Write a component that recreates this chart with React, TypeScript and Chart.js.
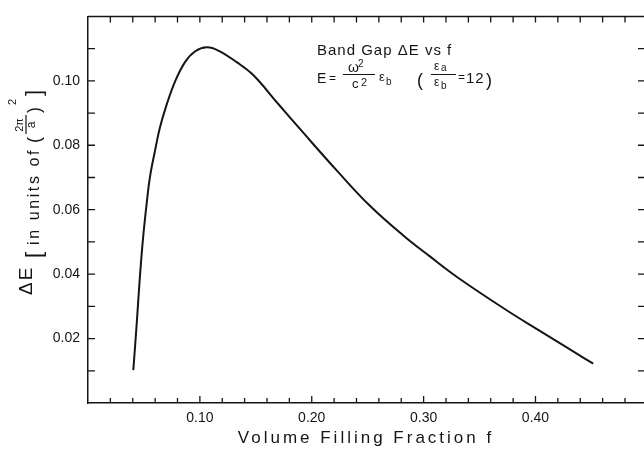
import React, { useEffect, useRef } from 'react';
import { Chart, registerables } from 'chart.js';

Chart.register(...registerables);

// ---- data ----
const fillFraction = [
  0.0405, 0.0435, 0.0465, 0.0494, 0.0525, 0.0554, 0.0599, 0.0643, 0.0703, 0.0777,
  0.0867, 0.0956, 0.1061, 0.1165, 0.1329, 0.1477, 0.1701, 0.1924, 0.2223, 0.252,
  0.2818, 0.3056, 0.3324, 0.3742, 0.4039, 0.4337, 0.4516,
];
const bandGap = [
  0.0102, 0.0244, 0.0397, 0.0519, 0.0621, 0.0702, 0.0783, 0.0855, 0.0926, 0.0997,
  0.1058, 0.1091, 0.1104, 0.1094, 0.1058, 0.1018, 0.0928, 0.0839, 0.0722, 0.0612,
  0.052, 0.0455, 0.0385, 0.0288, 0.0224, 0.016, 0.0122,
];
const xTickLabels = ['0.10', '0.20', '0.30', '0.40'];
const yTickLabels = ['0.02', '0.04', '0.06', '0.08', '0.10'];
const xAxisTitle = 'Volume Filling Fraction f';
const annotationTitle = 'Band Gap \u0394E vs f';

const INK = '#151515';
const FONT = '"Liberation Sans", Arial, sans-serif';

function txt(ctx: CanvasRenderingContext2D, s: string, x: number, y: number, size: number, ls = 0, align: CanvasTextAlign = 'left') {
  ctx.font = `${size}px ${FONT}`;
  (ctx as any).letterSpacing = `${ls}px`;
  ctx.textAlign = align;
  ctx.textBaseline = 'alphabetic';
  ctx.fillText(s, x, y);
}

function hline(ctx: CanvasRenderingContext2D, x1: number, x2: number, y: number, w = 1) {
  ctx.lineWidth = w;
  ctx.beginPath();
  ctx.moveTo(x1, y);
  ctx.lineTo(x2, y);
  ctx.stroke();
}

const decorPlugin = {
  id: 'decor',
  afterDraw(chart: any) {
    const ctx: CanvasRenderingContext2D = chart.ctx;
    const { left, right, top, bottom } = chart.chartArea;
    const xs = chart.scales.x;
    const ys = chart.scales.y;
    ctx.save();
    ctx.strokeStyle = INK;
    ctx.fillStyle = INK;
    ctx.lineWidth = 1.5;
    // top border
    ctx.beginPath();
    ctx.moveTo(left, top);
    ctx.lineTo(right, top);
    ctx.stroke();
    // inward ticks
    ctx.lineWidth = 1.3;
    xs.ticks.forEach((t: any) => {
      const v = t.value;
      if (v <= xs.min + 1e-9 || v >= xs.max - 1e-9) return;
      const px = xs.getPixelForValue(v);
      const major = Math.round(v * 100) % 10 === 0;
      const len = major ? 7 : 5;
      ctx.beginPath();
      ctx.moveTo(px, bottom);
      ctx.lineTo(px, bottom - len);
      ctx.moveTo(px, top);
      ctx.lineTo(px, top + 6);
      ctx.stroke();
    });
    ys.ticks.forEach((t: any) => {
      const v = t.value;
      if (v <= ys.min + 1e-9 || v >= ys.max - 1e-9) return;
      const py = ys.getPixelForValue(v);
      ctx.beginPath();
      ctx.moveTo(left, py);
      ctx.lineTo(left + 7, py);
      ctx.moveTo(right, py);
      ctx.lineTo(right - 6, py);
      ctx.stroke();
    });

    // x axis title
    txt(ctx, xAxisTitle, 366, 442.5, 17, 3, 'center');

    // y axis title (rotated)
    ctx.save();
    ctx.translate(0, 295);
    ctx.rotate(-Math.PI / 2);
    txt(ctx, '\u0394E', 0, 32, 19, 2);
    txt(ctx, '[', 37, 41, 22);
    txt(ctx, 'in units of', 50, 39, 16, 2.6);
    txt(ctx, '(', 152, 40, 18);
    txt(ctx, '2\u03c0', 170, 23, 11, 0, 'center');
    ctx.strokeStyle = INK;
    hline(ctx, 161, 180, 26, 1.2);
    txt(ctx, 'a', 170, 35, 12, 0, 'center');
    txt(ctx, ')', 182, 40, 18);
    txt(ctx, '2', 190, 16, 11);
    txt(ctx, ']', 199, 41, 22);
    ctx.restore();

    // annotation
    txt(ctx, annotationTitle, 317, 55, 15, 1);
    txt(ctx, 'E', 317, 83, 14);
    txt(ctx, '=', 329, 82, 12);
    txt(ctx, '\u03c9', 348, 72, 14);
    txt(ctx, '2', 358, 67, 10);
    hline(ctx, 343, 375, 74.5, 1);
    txt(ctx, 'c', 352, 88, 13);
    txt(ctx, '2', 361, 86, 11);
    txt(ctx, '\u03b5', 379, 81, 13);
    txt(ctx, 'b', 386, 85, 10);
    txt(ctx, '(', 417, 86, 18);
    txt(ctx, '\u03b5', 434, 70, 12);
    txt(ctx, 'a', 441, 71, 10);
    hline(ctx, 431, 456, 74.5, 1);
    txt(ctx, '\u03b5', 434, 86, 12);
    txt(ctx, 'b', 441, 89, 10);
    txt(ctx, '=', 458, 81, 12);
    txt(ctx, '12', 466, 83, 15, 1);
    txt(ctx, ')', 486, 86, 18);

    ctx.restore();
  },
};

export default function App() {
  const ref = useRef<HTMLCanvasElement | null>(null);
  useEffect(() => {
    if (!ref.current) return;
    const chart = new Chart(ref.current, {
      type: 'line',
      data: {
        datasets: [
          {
            data: fillFraction.map((f, i) => ({ x: f, y: bandGap[i] })),
            borderColor: INK,
            borderWidth: 2,
            pointRadius: 0,
            fill: false,
            tension: 0.4,
          },
        ],
      },
      options: {
        animation: false,
        responsive: false,
        devicePixelRatio: 1,
        layout: { padding: { top: 10, right: 0, left: 0, bottom: 0 } },
        plugins: { legend: { display: false }, tooltip: { enabled: false }, title: { display: false } },
        scales: {
          x: {
            type: 'linear',
            min: 0,
            max: 0.497,
            afterFit: (s: any) => { s.height = 46; },
            grid: { drawOnChartArea: false, drawTicks: false },
            border: { display: true, color: INK, width: 1.5 },
            ticks: {
              stepSize: 0.02,
              includeBounds: false,
              autoSkip: false,
              maxRotation: 0,
              padding: 7,
              color: INK,
              font: { family: FONT, size: 14 },
              callback: (v: any) => {
                const s = Number(v).toFixed(2);
                return xTickLabels.includes(s) ? s : '';
              },
            },
          },
          y: {
            type: 'linear',
            min: 0,
            max: 0.12,
            afterFit: (s: any) => { s.width = 88; },
            grid: { drawOnChartArea: false, drawTicks: false },
            border: { display: true, color: INK, width: 1.5 },
            ticks: {
              stepSize: 0.01,
              includeBounds: false,
              autoSkip: false,
              padding: 8,
              color: INK,
              font: { family: FONT, size: 14 },
              callback: (v: any) => {
                const s = Number(v).toFixed(2);
                return yTickLabels.includes(s) ? s : '';
              },
            },
          },
        },
      },
      plugins: [decorPlugin],
    } as any);
    return () => chart.destroy();
  }, []);

  return (
    <div style={{ position: 'fixed', left: 0, top: 0, width: 644, height: 449, background: '#fff' }}>
      <canvas ref={ref} width={644} height={449} style={{ display: 'block', width: 644, height: 449 }} />
    </div>
  );
}
